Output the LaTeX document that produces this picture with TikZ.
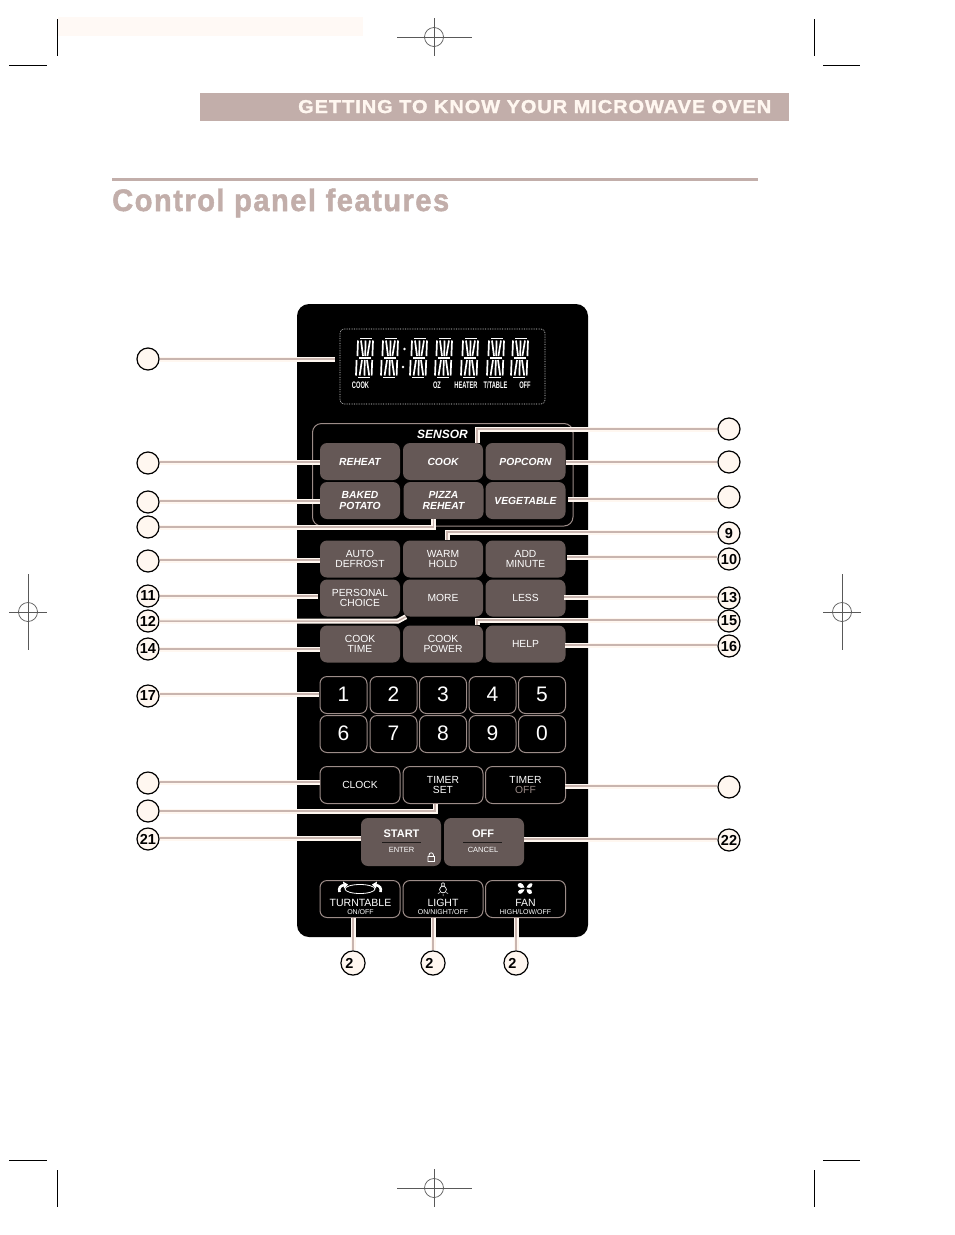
\documentclass[tikz,border=0pt]{standalone}
\usepackage{fontspec}
\usepackage{graphicx}
\setmainfont{Liberation Sans}
\newfontfamily\heavy[FakeBold=1.6,LetterSpace=5]{Liberation Sans Bold}
\newfontfamily\numfont{Liberation Sans Bold}
\definecolor{rose}{HTML}{C2AEAA}
\definecolor{cream}{HTML}{FFF7F0}
\definecolor{btn}{HTML}{655856}
\definecolor{edge}{HTML}{9C8C88}
\definecolor{linecore}{HTML}{C9B5AF}
\newcommand{\fs}[1]{\fontsize{#1}{#1}\selectfont}
\newcommand{\dn}[1]{\raisebox{-1.3pt}{#1}}
\newcommand{\kd}[1]{\raisebox{1pt}{#1}}
\newcommand{\lcdigit}[1]{%
 \begin{scope}[shift={(#1,358)},seg/.style={draw=white,line width=1.7pt}]
  \draw[seg] (-5,-19.5) -- (7,-19.5);
  \draw[seg] (-6,0) -- (6,0);
  \draw[seg] (-7,19.5) -- (5,19.5);
  \draw[seg] (-7,-17.5) -- (-7.6,-2) (0.6,-17.5) -- (0.2,-2) (8,-17.5) -- (7.4,-2);
  \draw[seg] (-4,-17.5) -- (-2,-2) (5,-17.5) -- (2.4,-2);
  \draw[seg] (-8.4,2) -- (-9,17.5) (-0.2,2) -- (-0.6,17.5) (7.2,2) -- (6.6,17.5);
  \draw[seg] (-3,2) -- (-5.4,17.5) (2,2) -- (4.2,17.5);
 \end{scope}}
\tikzset{
 x=1pt,y=-1pt,
 pad/.style={rectangle,rounded corners=7pt,minimum width=80pt,minimum height=37pt,inner sep=0pt,align=center,text=white,font=\fs{10.3}},
 solid pad/.style={pad,fill=btn},
 outline pad/.style={pad,draw=edge,line width=1pt},
 sensorpad/.style={solid pad,font=\fs{10.3}\bfseries\itshape},
 keypad/.style={outline pad,minimum width=47pt,font=\fs{21}},
 callout/.style={circle,draw=black,line width=1.2pt,fill=cream,minimum size=22pt,inner sep=0pt,font=\numfont\fs{14.5}},
 leader/.style={line cap=butt,preaction={draw=cream,line width=5pt},draw=linecore,line width=1.5pt},
 small/.style={inner sep=0pt,text=white,font=\fs{7.5}},
 lcdlabel/.style={inner sep=0pt,text=white,font=\fs{9.5}\bfseries,xscale=.6},
 crop/.style={draw=black,line width=.8pt},
 cropgrey/.style={draw=black!65,line width=.7pt},
}
\begin{document}
\begin{tikzpicture}
\useasboundingbox (0,0) rectangle (954,1235);
\fill[white] (0,0) rectangle (954,1235);
% printer marks
\fill[cream!70] (58,17) rectangle (363,36);
\draw[crop] (57,19) -- (57,56) (9,65) -- (47,65);
\draw[crop] (814,19) -- (814,56) (823,65) -- (860,65);
\draw[crop] (57,1170) -- (57,1207) (9,1160) -- (47,1160);
\draw[crop] (814,1170) -- (814,1207) (823,1160) -- (860,1160);
\foreach \cx/\cy in {434/37,434/1188}{
 \draw[cropgrey] (\cx,\cy) circle (9.5);
 \draw[cropgrey] (\cx-37,\cy) -- (\cx+38,\cy) (\cx,\cy-19) -- (\cx,\cy+19);}
\foreach \cx/\cy in {28/612,842/612}{
 \draw[cropgrey] (\cx,\cy) circle (9.5);
 \draw[cropgrey] (\cx-19,\cy) -- (\cx+19,\cy) (\cx,\cy-38) -- (\cx,\cy+38);}
% header
\fill[rose] (200,93) rectangle (789,121);
\node[anchor=base west,inner sep=0pt,text=cream] (head) at (298,113) {\resizebox{473pt}{13pt}{\heavy GETTING TO KNOW YOUR MICROWAVE OVEN}};
\fill[rose] (112,178) rectangle (758,181);
\node[anchor=base west,inner sep=0pt,text=rose] (title) at (112,211) {\resizebox{337pt}{22.5pt}{\heavy Control panel features}};
% panel
\fill[black,rounded corners=12pt] (297,304) rectangle (588,937);
\draw[white!90!black,densely dotted,line width=.7pt,rounded corners=4pt] (340,329) rectangle (545,404);
\foreach \dx in {365,390,419,444,470,496,520}{\lcdigit{\dx}}
\fill[white] (404.5,349) circle (1.3) (403,367) circle (1.3);
\node[lcdlabel] (lcook) at (360.5,385.5) {COOK};
\node[lcdlabel] (loz) at (437,385.5) {OZ};
\node[lcdlabel] (lheat) at (466,385.5) {HEATER};
\node[lcdlabel] (ltt) at (495.5,385.5) {T/TABLE};
\node[lcdlabel] (loff) at (525,385.5) {OFF};
% sensor group
\draw[edge,line width=1pt,rounded corners=9pt] (312.5,423.5) rectangle (573,526);
\node[text=white,inner sep=0pt,font=\fs{12}\bfseries\itshape] (sensor) at (442.5,434.5) {SENSOR};
% buttons
\node[sensorpad] (reheat) at (360,461.5) {\dn{REHEAT}};
\node[sensorpad] (cook) at (443,461.5) {\dn{COOK}};
\node[sensorpad] (popcorn) at (525.5,461.5) {\dn{POPCORN}};
\node[sensorpad] (baked) at (360,500.5) {BAKED\\[.4pt]POTATO};
\node[sensorpad] (pizza) at (443.5,500.5) {PIZZA\\[.4pt]REHEAT};
\node[sensorpad] (veg) at (525.5,500.5) {VEGETABLE};
\node[solid pad] (auto) at (360,559) {AUTO\\DEFROST};
\node[solid pad] (warm) at (443,559) {WARM\\HOLD};
\node[solid pad] (add) at (525.5,559) {ADD\\MINUTE};
\node[solid pad] (personal) at (360,598) {PERSONAL\\CHOICE};
\node[solid pad] (more) at (443,598) {MORE};
\node[solid pad] (less) at (525.5,598) {LESS};
\node[solid pad] (cooktime) at (360,644) {COOK\\TIME};
\node[solid pad] (cookpower) at (443,644) {COOK\\POWER};
\node[solid pad] (help) at (525.5,644) {HELP};
\node[keypad] (k1) at (343.5,695) {\kd{1}};
\node[keypad] (k2) at (393.5,695) {\kd{2}};
\node[keypad] (k3) at (443,695) {\kd{3}};
\node[keypad] (k4) at (492.5,695) {\kd{4}};
\node[keypad] (k5) at (542,695) {\kd{5}};
\node[keypad] (k6) at (343.5,734) {\kd{6}};
\node[keypad] (k7) at (393.5,734) {\kd{7}};
\node[keypad] (k8) at (443,734) {\kd{8}};
\node[keypad] (k9) at (492.5,734) {\kd{9}};
\node[keypad] (k0) at (542,734) {\kd{0}};
\node[outline pad] (clock) at (360,785) {CLOCK};
\node[outline pad] (timerset) at (443,785) {TIMER\\SET};
\node[outline pad] (timeroff) at (525.5,785) {TIMER\\\textcolor{edge}{OFF}};
\node[solid pad,minimum height=48pt] (start) at (401,842) {};
\node[solid pad,minimum height=48pt] (off) at (484,842) {};
\node[inner sep=0pt,text=white,font=\fs{11}\bfseries] (starttxt) at (401.5,834) {START};
\node[small] (enter) at (401.5,850) {ENTER};
\node[inner sep=0pt,text=white,font=\fs{11}\bfseries] (offtxt) at (483,834) {OFF};
\node[small] (cancel) at (483,850) {CANCEL};
\draw[black!70!btn,line width=1pt] (382,842) -- (421,842) (463,842) -- (502,842);
\draw[white,line width=.8pt] (428,856.5) rectangle (434.5,861.5) (429,856.5) -- (429,855) arc (180:360:2.2) -- (433.4,856.5);
\node[outline pad] (turn) at (360,899) {};
\node[outline pad] (light) at (443,899) {};
\node[outline pad] (fan) at (525.5,899) {};
\node[inner sep=0pt,text=white,font=\fs{10.5}] (turntxt) at (360.5,902.5) {TURNTABLE};
\node[small,font=\fs{7}] (turnsub) at (360.5,911.5) {ON/OFF};
\node[inner sep=0pt,text=white,font=\fs{10.5}] (lighttxt) at (443,903) {LIGHT};
\node[small,font=\fs{7}] (lightsub) at (443,911.5) {ON/NIGHT/OFF};
\node[inner sep=0pt,text=white,font=\fs{10.5}] (fantxt) at (525.5,902.5) {FAN};
\node[small,font=\fs{7}] (fansub) at (525.5,911.5) {HIGH/LOW/OFF};
% icons
\draw[white,line width=.8pt] (360,889) ellipse (15 and 4.5);
\draw[white,line width=2.6pt] (339.5,892) .. controls (338.5,888) and (340,886) .. (344,885);
\fill[white] (343,881.5) -- (348,884.5) -- (344,888.5) -- cycle;
\draw[white,line width=2.6pt] (380.5,892) .. controls (381.5,888) and (380,886) .. (376,885);
\fill[white] (377,881.5) -- (372,884.5) -- (376,888.5) -- cycle;
\draw[white,line width=.7pt] (443,889.5) circle (3.4) (442,883) -- (444,883) (441.7,886) -- (441.7,883) (444.3,886) -- (444.3,883);
\draw[white,line width=.5pt] (438,893.5) -- (440,892.5) (443,894) -- (443,896) (448,893.5) -- (446,892.5);
\fill[white] (524.5,887.5) .. controls (519,889) and (517,886) .. (518,884) .. controls (520,882) and (523,883) .. (524.5,887.5)
 (526.5,887.5) .. controls (528,884) and (531,882) .. (532.5,884) .. controls (533,886) and (531,889) .. (526.5,887.5)
 (526.5,889.5) .. controls (531,888.5) and (533,891) .. (532,893) .. controls (530,895) and (527,894) .. (526.5,889.5)
 (524.5,889.5) .. controls (523,893) and (520,895) .. (518.5,893) .. controls (517,891) and (520,888.5) .. (524.5,889.5);
% callouts
\node[callout] (c1) at (148,359) {};
\node[callout] (c2) at (148,463) {};
\node[callout] (c3) at (148,502) {};
\node[callout] (c4) at (148,527) {};
\node[callout] (c5) at (148,561) {};
\node[callout] (c11) at (148,596) {11};
\node[callout] (c12) at (148,621) {12};
\node[callout] (c14) at (148,649) {14};
\node[callout] (c17) at (148,696) {17};
\node[callout] (c19) at (148,783) {};
\node[callout] (c20) at (148,811) {};
\node[callout] (c21) at (148,839) {21};
\node[callout] (r1) at (729,429) {};
\node[callout] (r2) at (729,462) {};
\node[callout] (r3) at (729,497) {};
\node[callout] (c9) at (729,533) {9};
\node[callout] (c10) at (729,559) {10};
\node[callout] (c13) at (729,598) {13};
\node[callout] (c15) at (729,621) {15};
\node[callout] (c16) at (729,646) {16};
\node[callout] (r4) at (729,787) {};
\node[callout] (c22) at (729,840) {22};
\node[callout] (b1) at (353,963) {\makebox[22pt][c]{2\hspace{7pt}}};
\node[callout] (b2) at (433,963) {\makebox[22pt][c]{2\hspace{7pt}}};
\node[callout] (b3) at (516,963) {\makebox[22pt][c]{2\hspace{7pt}}};
\coordinate (disp) at (335,359);
% leaders
\draw[leader] (c1.east) -- (c1.east -| disp);
\draw[leader] ([yshift=1pt]c2.east) -- ([yshift=1pt]c2.east -| reheat.west);
\draw[leader] ([yshift=1pt]c3.east) -- ([yshift=1pt]c3.east -| baked.west);
\draw[leader] (c4.east) -| ([xshift=-10pt]pizza.south);
\draw[leader] ([yshift=1pt]c5.east) -- ([yshift=1pt]c5.east -| auto.west);
\draw[leader] (c11.east) -- ([xshift=-2pt]c11.east -| personal.west);
\draw[leader] (c12.east) -- ([xshift=-45pt]c12.east -| more.south) -- ([xshift=-37pt]more.south);
\draw[leader] (c14.east) -- (c14.east -| cooktime.west);
\draw[leader] ([yshift=2pt]c17.east) -- ([yshift=2pt,xshift=-1pt]c17.east -| k1.west);
\draw[leader] ([yshift=1pt]c19.east) -- ([yshift=1pt]c19.east -| clock.west);
\draw[leader] (c20.east) -| ([xshift=-8pt]timerset.south);
\draw[leader] ([yshift=1pt]c21.east) -- ([yshift=1pt]c21.east -| start.west);
\draw[leader] (r1.west) -| ([xshift=34pt]cook.north);
\draw[leader] (r2.west) -- (r2.west -| popcorn.east);
\draw[leader] ([yshift=-2pt]r3.west) -- ([yshift=-2pt,xshift=2pt]r3.west -| veg.east);
\draw[leader] ([yshift=1pt]c9.west) -| ([xshift=4pt]warm.north);
\draw[leader] ([yshift=2pt]c10.west) -- ([yshift=2pt,xshift=1pt]c10.west -| add.east);
\draw[leader] ([yshift=1pt]c13.west) -- ([yshift=1pt,xshift=-2pt]c13.west -| less.east);
\draw[leader] ([yshift=1pt]c15.west) -| ([xshift=34pt]cookpower.north);
\draw[leader] ([yshift=1pt]c16.west) -- ([yshift=1pt,xshift=-1pt]c16.west -| help.east);
\draw[leader] ([yshift=1pt]r4.west) -- ([yshift=1pt,xshift=-1pt]r4.west -| timeroff.east);
\draw[leader] ([yshift=1pt]c22.west) -- ([yshift=1pt]c22.west -| off.east);
\draw[leader] (b1.north) -- (b1.north |- turn.south);
\draw[leader] (b2.north) -- (b2.north |- light.south);
\draw[leader] (b3.north) -- (b3.north |- fan.south);
\end{tikzpicture}
\end{document}
